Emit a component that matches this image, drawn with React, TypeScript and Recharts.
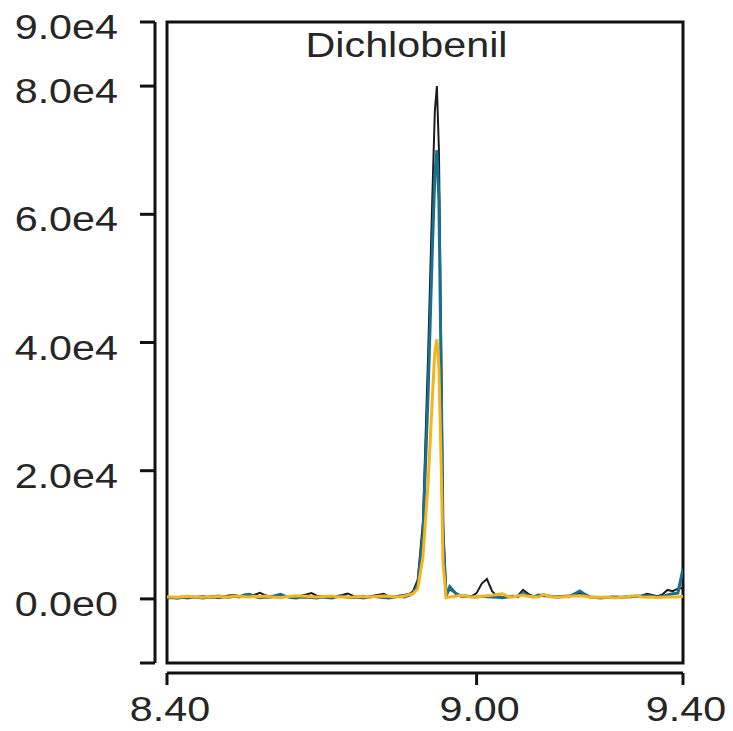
import React from 'react';
import { LineChart, Line, XAxis, YAxis, ReferenceArea } from 'recharts';

const retentionTimes = [
  8.40, 8.41, 8.42, 8.43, 8.44, 8.45, 8.46, 8.47, 8.48, 8.49,
  8.50, 8.51, 8.52, 8.53, 8.54, 8.55, 8.56, 8.57, 8.58, 8.59,
  8.60, 8.61, 8.62, 8.63, 8.64, 8.65, 8.66, 8.67, 8.68, 8.69,
  8.70, 8.71, 8.72, 8.73, 8.74, 8.75, 8.76, 8.77, 8.78, 8.79,
  8.80, 8.81, 8.82, 8.83, 8.84, 8.85, 8.86, 8.87,
  8.877, 8.886, 8.896, 8.906, 8.914, 8.919, 8.923, 8.927, 8.931, 8.935, 8.941, 8.948,
  8.96, 8.97, 8.98, 8.99, 9.00, 9.01, 9.02, 9.03, 9.04, 9.05,
  9.06, 9.07, 9.08, 9.09, 9.10, 9.11, 9.12, 9.13, 9.14, 9.15,
  9.16, 9.17, 9.18, 9.19, 9.20, 9.21, 9.22, 9.23, 9.24, 9.25,
  9.26, 9.27, 9.28, 9.29, 9.30, 9.31, 9.32, 9.33, 9.34, 9.35,
  9.36, 9.37, 9.38, 9.39, 9.40,
];

const blackTrace = [
  200, 250, 150, 200, 300, 250, 350, 400, 300, 450,
  500, 400, 550, 600, 450, 500, 400, 650, 950, 600,
  300, 450, 400, 350, 300, 450, 500, 700, 900, 500,
  350, 400, 300, 450, 600, 850, 500, 350, 400, 300,
  500, 650, 800, 400, 250, 500, 600, 800,
  1200, 3000, 12000, 38000, 62000, 76000, 80000, 70000, 42000, 12000, 600, 1500,
  900, 500, 350, 400, 900, 2400, 3100, 1200, 400, 300,
  250, 300, 500, 1400, 800, 400, 500, 700, 400, 300,
  450, 350, 400, 600, 900, 500, 300, 250, 300, 200,
  350, 300, 250, 350, 400, 350, 500, 800, 600, 400,
  700, 1400, 1200, 1600, 1700,
];

const blueTrace = [
  150, 200, 100, 250, 150, 300, 200, 150, 250, 300,
  200, 350, 250, 400, 300, 600, 700, 350, 200, 300,
  250, 500, 700, 400, 200, 150, 300, 250, 200, 150,
  300, 200, 150, 350, 400, 250, 200, 300, 150, 250,
  400, 300, 200, 150, 300, 400, 300, 600,
  900, 2200, 10000, 32000, 54000, 66000, 70000, 62000, 37000, 10000, 400, 1900,
  800, 400, 450, 350, 300, 400, 350, 300, 250, 200,
  350, 400, 350, 900, 500, 300, 600, 500, 450, 350,
  300, 400, 450, 800, 1250, 700, 300, 200, 150, 200,
  250, 300, 250, 300, 350, 400, 450, 500, 400, 300,
  400, 600, 800, 900, 4700,
];

const yellowTrace = [
  350, 300, 250, 350, 400, 350, 300, 250, 300, 350,
  400, 350, 300, 450, 400, 350, 300, 400, 350, 450,
  300, 250, 200, 350, 400, 500, 450, 400, 350, 300,
  350, 400, 450, 350, 300, 250, 300, 400, 350, 300,
  350, 400, 450, 400, 350, 300, 450, 700,
  800, 1600, 6500, 18000, 31000, 38500, 40500, 36000, 22000, 5500, 200, 300,
  400, 550, 400, 300, 350, 400, 500, 550, 700, 800,
  400, 300, 450, 600, 400, 350, 300, 700, 400, 250,
  300, 350, 400, 450, 500, 400, 250, 300, 250, 300,
  200, 150, 250, 300, 450, 500, 300, 250, 300, 200,
  250, 300, 350, 300, 400,
];

const xTicks = [8.4, 9.0, 9.4];
const xTickLabels = ['8.40', '9.00', '9.40'];
const yTicks = [-10000, 0, 20000, 40000, 60000, 80000, 90000];
const yTickLabels = ['', '0.0e0', '2.0e4', '4.0e4', '6.0e4', '8.0e4', '9.0e4'];
const title = 'Dichlobenil';

const data = retentionTimes.map((t, i) => ({
  t,
  black: blackTrace[i],
  blue: blueTrace[i],
  yellow: yellowTrace[i],
}));

const FONT = '"Liberation Sans", Arial, Helvetica, sans-serif';
const TEXT_COLOR = '#262626';
const FONT_SIZE = 35;
const STRETCH = 1.18;

const YTick = (props: any) => {
  const { x, y, payload } = props;
  const i = yTicks.indexOf(payload.value);
  const label = i >= 0 ? yTickLabels[i] : '';
  return (
    <text transform={`translate(${x},${y + 17}) scale(${STRETCH},1)`} textAnchor="end"
      fontSize={FONT_SIZE} fill={TEXT_COLOR} fontFamily={FONT}>
      {label}
    </text>
  );
};

const XTick = (props: any) => {
  const { x, y, payload } = props;
  const i = xTicks.indexOf(payload.value);
  const label = i >= 0 ? xTickLabels[i] : '';
  return (
    <text transform={`translate(${x + 3},${y + 36}) scale(${STRETCH},1)`} textAnchor="middle"
      fontSize={FONT_SIZE} fill={TEXT_COLOR} fontFamily={FONT}>
      {label}
    </text>
  );
};

export default function App() {
  return (
    <div style={{ position: 'absolute', left: 0, top: 0, width: 733, height: 731, background: '#fff' }}>
      <LineChart width={733} height={731} data={data}
        margin={{ top: 22, right: 50, bottom: 0, left: 0 }}>
        <XAxis xAxisId="in" dataKey="t" type="number" domain={[8.4, 9.4]} height={10}
          axisLine={false} tickLine={false} tick={false} allowDataOverflow />
        <XAxis xAxisId="out" dataKey="t" type="number" domain={[8.4, 9.4]} height={58}
          ticks={xTicks} interval={0} allowDataOverflow
          axisLine={{ stroke: '#111', strokeWidth: 3 }}
          tickLine={{ stroke: '#111', strokeWidth: 3 }}
          tickSize={12} tickMargin={0} tick={XTick} />
        <YAxis yAxisId="in" type="number" domain={[-10000, 90000]} width={12}
          axisLine={false} tickLine={false} tick={false} allowDataOverflow />
        <YAxis yAxisId="out" type="number" domain={[-10000, 90000]} width={155}
          ticks={yTicks} interval={0} allowDataOverflow
          axisLine={{ stroke: '#111', strokeWidth: 3 }}
          tickLine={{ stroke: '#111', strokeWidth: 3 }}
          tickSize={15} tickMargin={22} tick={YTick} />
        <ReferenceArea xAxisId="in" yAxisId="in" x1={8.4} x2={9.4} y1={-10000} y2={90000}
          fill="none" fillOpacity={0} stroke="#111" strokeWidth={3} ifOverflow="visible" />
        <Line xAxisId="in" yAxisId="in" type="linear" dataKey="black" stroke="#1c1c1c"
          strokeWidth={2} dot={false} isAnimationActive={false} />
        <Line xAxisId="in" yAxisId="in" type="linear" dataKey="blue" stroke="#17708f"
          strokeWidth={3} dot={false} isAnimationActive={false} />
        <Line xAxisId="in" yAxisId="in" type="linear" dataKey="yellow" stroke="#f5b41c"
          strokeWidth={3} dot={false} isAnimationActive={false} />
      </LineChart>
      <svg width={733} height={100} style={{ position: 'absolute', left: 0, top: 0, pointerEvents: 'none' }}>
        <text transform={`translate(406.5,57) scale(${STRETCH},1)`} textAnchor="middle"
          fontSize={FONT_SIZE} fill={TEXT_COLOR} fontFamily={FONT}>
          {title}
        </text>
      </svg>
    </div>
  );
}
